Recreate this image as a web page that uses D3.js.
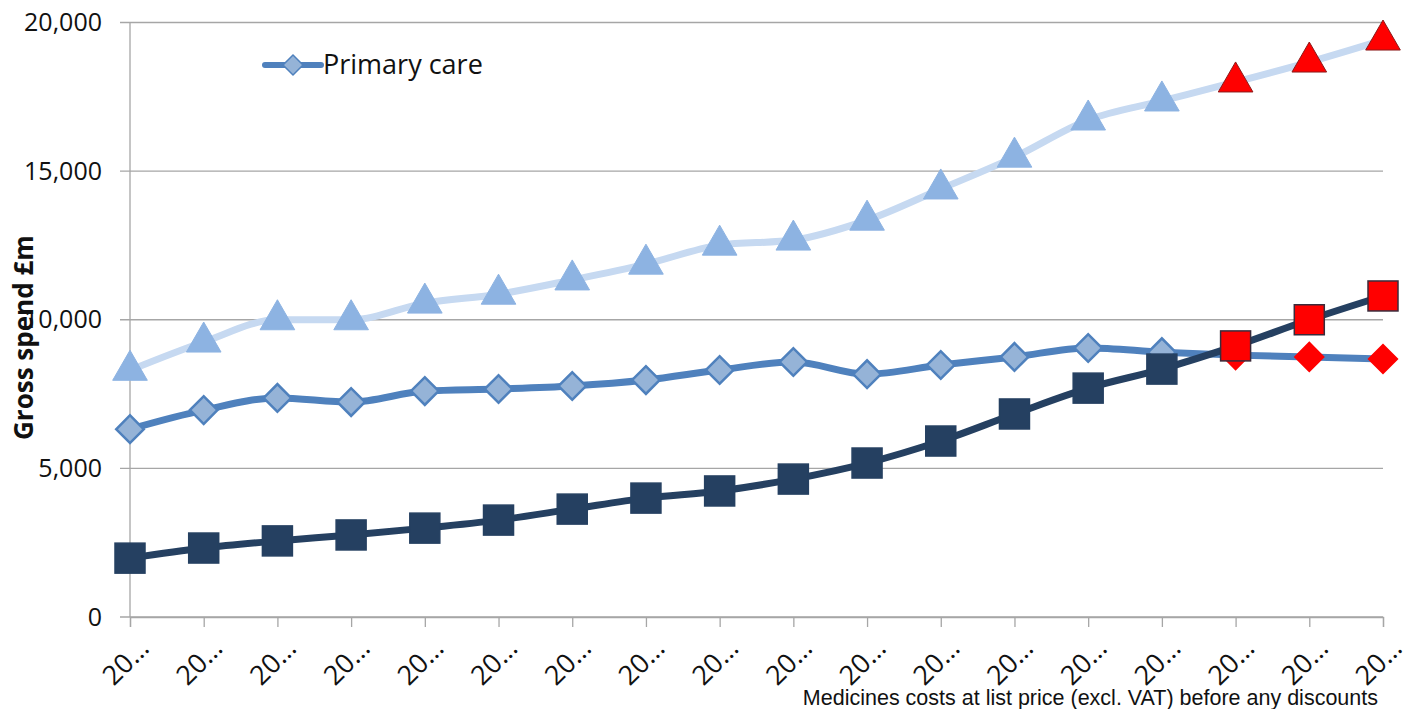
<!DOCTYPE html>
<html>
<head>
<meta charset="utf-8">
<script src="https://cdn.jsdelivr.net/npm/d3@7"></script>
<style>
  body { margin: 0; background: #fff; }
  svg { display: block; }
</style>
</head>
<body>
<script>
const w = 1405;
const h = 709;

// 18 years, labels truncated to "20…" in the original
const years = ["20…","20…","20…","20…","20…","20…","20…","20…","20…","20…","20…","20…","20…","20…","20…","20…","20…","20…"];
const totalSpend = [8300, 9250, 10000, 10000, 10560, 10860, 11340, 11870, 12510, 12680, 13350, 14400, 15470, 16720, 17360, 18000, 18670, 19410];
const primaryCare = [6320, 6960, 7370, 7230, 7600, 7670, 7770, 7970, 8310, 8580, 8170, 8480, 8750, 9050, 8910, 8810, 8750, 8680];
const hospital = [1980, 2320, 2560, 2760, 2990, 3260, 3630, 4000, 4240, 4640, 5180, 5920, 6830, 7700, 8340, 9120, 10000, 10800];
const projectedFrom = 15; // last three points are projections (red markers)
const yTicks = [0, 5000, 10000, 15000, 20000];

const margin = {left: 130, right: 22, top: 22.5, bottom: 92};

const svg = d3.select("body").append("svg")
    .attr("width", w)
    .attr("height", h);

const idx = d3.range(years.length);
const x = d3.scalePoint()
    .domain(idx)
    .range([margin.left, w - margin.right]);

const y = d3.scaleLinear()
    .domain([0, 20000])
    .range([h - margin.bottom, margin.top]);

// gridlines
svg.append("g")
    .selectAll("line")
    .data(yTicks)
    .enter()
    .append("line")
    .attr("x1", margin.left - 10)
    .attr("x2", w - margin.right)
    .attr("y1", d => y(d))
    .attr("y2", d => y(d))
    .style("stroke", "#a6a6a6")
    .style("stroke-width", 1.3);

// y axis labels
const yAxis = d3.axisLeft(y)
    .tickValues(yTicks)
    .tickFormat(d3.format(","))
    .tickSize(0)
    .tickPadding(28);

svg.append("g")
    .attr("transform", `translate(${margin.left},0)`)
    .call(yAxis)
    .call(g => g.select(".domain").remove())
    .selectAll("text")
    .style("font-family", "'Open Sans', sans-serif")
    .style("font-size", "25px")
    .style("fill", "#111");

// vertical axis line
svg.append("line")
    .attr("x1", margin.left).attr("x2", margin.left)
    .attr("y1", y(20000)).attr("y2", y(0))
    .style("stroke", "#a6a6a6")
    .style("stroke-width", 1.3);

// x axis
const xAxis = d3.axisBottom(x)
    .tickFormat(i => years[i])
    .tickSize(10)
    .tickPadding(6);

const xg = svg.append("g")
    .attr("transform", `translate(0,${y(0)})`)
    .call(xAxis);
xg.select(".domain").style("stroke", "#a6a6a6").style("stroke-width", 1.3);
xg.selectAll(".tick line").style("stroke", "#a6a6a6").style("stroke-width", 1.3);
xg.selectAll("text")
    .attr("y", 0)
    .attr("dy", 0)
    .attr("transform", "translate(20,33) rotate(-45)")
    .style("text-anchor", "end")
    .style("font-family", "'Open Sans', sans-serif")
    .style("font-size", "27px")
    .style("fill", "#111");

// y axis title
svg.append("text")
    .attr("transform", `translate(33,${y(9400)}) rotate(-90)`)
    .style("text-anchor", "middle")
    .style("font-family", "'Open Sans', sans-serif")
    .style("font-weight", "bold")
    .style("font-size", "26px")
    .style("fill", "#111")
    .text("Gross spend £m");

const line = d3.line()
    .x((d, i) => x(i))
    .y(d => y(d))
    .curve(d3.curveMonotoneX);

// total series (light)
svg.append("path")
    .datum(totalSpend)
    .attr("d", line)
    .style("fill", "none")
    .style("stroke", "#c6d9f1")
    .style("stroke-width", 7)
    .style("stroke-linejoin", "round");

svg.append("path")
    .datum(primaryCare)
    .attr("d", line)
    .style("fill", "none")
    .style("stroke", "#4f81bd")
    .style("stroke-width", 7)
    .style("stroke-linejoin", "round");

svg.append("path")
    .datum(hospital)
    .attr("d", line)
    .style("fill", "none")
    .style("stroke", "#254061")
    .style("stroke-width", 7)
    .style("stroke-linejoin", "round");

// markers
const tri = d3.symbol().type(d3.symbolTriangle).size(520);
svg.append("g")
    .selectAll("path")
    .data(totalSpend)
    .enter()
    .append("path")
    .attr("d", tri)
    .attr("transform", (d, i) => `translate(${x(i)},${y(d)})`)
    .style("fill", (d, i) => i >= projectedFrom ? "#ff0000" : "#8db3e2")
    .style("stroke", (d, i) => i >= projectedFrom ? "#8b1a1a" : "#8db3e2")
    .style("stroke-width", 1);

const diamond = d3.symbol().type(d3.symbolSquare).size(380);
svg.append("g")
    .selectAll("path")
    .data(primaryCare)
    .enter()
    .append("path")
    .attr("d", diamond)
    .attr("transform", (d, i) => `translate(${x(i)},${y(d)}) rotate(45)`)
    .style("fill", (d, i) => i >= projectedFrom ? "#ff0000" : "#95b3d7")
    .style("stroke", (d, i) => i >= projectedFrom ? "#ff0000" : "#4f81bd")
    .style("stroke-width", 2.5);

const sq = 30;
svg.append("g")
    .selectAll("rect")
    .data(hospital)
    .enter()
    .append("rect")
    .attr("x", (d, i) => x(i) - sq / 2)
    .attr("y", d => y(d) - sq / 2)
    .attr("width", sq)
    .attr("height", sq)
    .style("fill", (d, i) => i >= projectedFrom ? "#ff0000" : "#254061")
    .style("stroke", (d, i) => i >= projectedFrom ? "#3b2b3b" : "#254061")
    .style("stroke-width", 1.5);

// legend
const lg = svg.append("g").attr("transform", "translate(265,65)");
lg.append("line")
    .attr("x1", 0).attr("x2", 56)
    .attr("y1", 0).attr("y2", 0)
    .style("stroke", "#4f81bd")
    .style("stroke-width", 6)
    .style("stroke-linecap", "round");
lg.append("path")
    .attr("d", d3.symbol().type(d3.symbolSquare).size(200))
    .attr("transform", "translate(28,0) rotate(45)")
    .style("fill", "#95b3d7")
    .style("stroke", "#4f81bd")
    .style("stroke-width", 1.5);
lg.append("text")
    .attr("x", 58)
    .attr("y", 9)
    .style("font-family", "'Open Sans', sans-serif")
    .style("font-size", "27px")
    .style("fill", "#111")
    .text("Primary care");

// footnote
svg.append("text")
    .attr("x", 1378)
    .attr("y", 705)
    .style("text-anchor", "end")
    .style("font-family", "'Liberation Sans', Arial, sans-serif")
    .style("font-size", "21.5px")
    .style("fill", "#111")
    .text("Medicines costs at list price (excl. VAT) before any discounts");
</script>
</body>
</html>
